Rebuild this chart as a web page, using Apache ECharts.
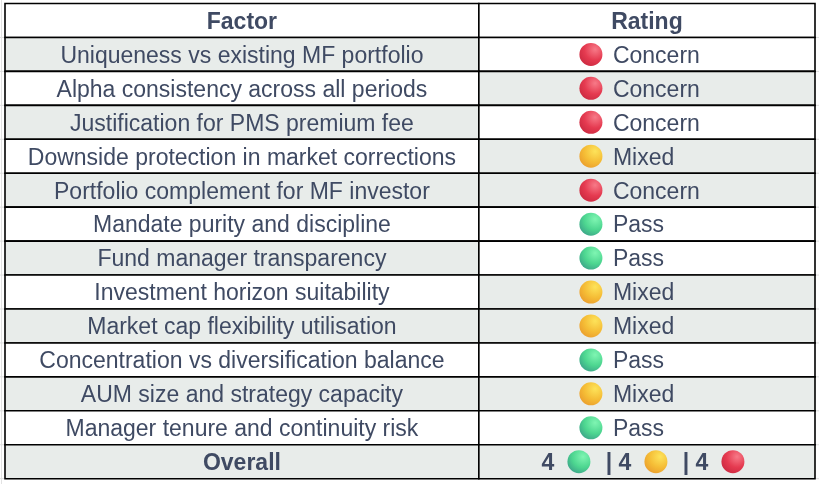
<!DOCTYPE html>
<html lang="en">
<head>
	<meta charset="UTF-8">
	<title>Factor ratings</title>
	<script src="https://cdn.jsdelivr.net/npm/echarts@6/dist/echarts.min.js"></script>
	<style>
		html, body { margin: 0; padding: 0; background: #fff; }
		#chart { width: 819px; height: 484px; }
	</style>
</head>
<body>
	<div id="chart"></div>
<script>
    // table content
    var headers = ['Factor', 'Rating'];
    var factors = [
        'Uniqueness vs existing MF portfolio',
        'Alpha consistency across all periods',
        'Justification for PMS premium fee',
        'Downside protection in market corrections',
        'Portfolio complement for MF investor',
        'Mandate purity and discipline',
        'Fund manager transparency',
        'Investment horizon suitability',
        'Market cap flexibility utilisation',
        'Concentration vs diversification balance',
        'AUM size and strategy capacity',
        'Manager tenure and continuity risk'
    ];
    var ratings = ['Concern', 'Concern', 'Concern', 'Mixed', 'Concern', 'Pass',
        'Pass', 'Mixed', 'Mixed', 'Pass', 'Mixed', 'Pass'];
    var overallLabel = 'Overall';
    var overallOrder = ['Pass', 'Mixed', 'Concern'];
    var overallCounts = [4, 4, 4];

    // which rating cells have the grey band (as in the source sheet)
    var ratingShade = [0, 1, 0, 1, 1, 0, 0, 1, 1, 0, 1, 0];

    var rowNames = [headers[0]].concat(factors, [overallLabel]);
    var colEdges = [0, 0.585, 1];   // share of the table width per column

    var FONT = 'Liberation Sans, Arial, sans-serif';
    var TEXT = '#3f4a63';
    var SHADE = '#e8ecea';

    var dotStops = {
        Concern: ['#f77a88', '#e53a50', '#c8283f'],
        Mixed: ['#fde35a', '#f5bd36', '#e99a2c'],
        Pass: ['#7ff5b2', '#4dd690', '#3a9f88']
    };
    function dot(kind, cx, cy) {
        var s = dotStops[kind];
        return {
            type: 'circle',
            shape: { cx: cx, cy: cy, r: 11.5 },
            style: {
                fill: new echarts.graphic.RadialGradient(0.68, 0.28, 0.85, [
                    { offset: 0, color: s[0] },
                    { offset: 0.55, color: s[1] },
                    { offset: 1, color: s[2] }
                ])
            }
        };
    }
    function label(str, x, y, bold, align) {
        return {
            type: 'text',
            style: {
                text: str, x: x, y: y + 2,
                fill: TEXT,
                font: (bold ? 'bold ' : '') + '23px ' + FONT,
                align: align || 'center',
                verticalAlign: 'middle'
            }
        };
    }

    // one data item per cell: [column, row]
    var cells = [];
    rowNames.forEach(function (name, r) {
        cells.push([0, r]);
        cells.push([1, r]);
    });

    function renderCell(params, api) {
        var col = api.value(0), row = api.value(1);
        var x0 = api.coord([colEdges[col], row])[0];
        var x1 = api.coord([colEdges[col + 1], row])[0];
        var cy = api.coord([0, row])[1];
        var h = api.size([0, 1])[1];
        var top = cy - h / 2;
        var cx = (x0 + x1) / 2;
        var last = rowNames.length - 1;
        var children = [];

        // faint sheet gridlines outside the table
        if (col === 0) {
            children.push({ type: 'line', shape: { x1: 0, y1: top + h, x2: api.getWidth(), y2: top + h },
                style: { stroke: '#dcdcdc', lineWidth: 1 } });
            if (row === 0) {
                children.push({ type: 'line', shape: { x1: 1.5, y1: 0, x2: 1.5, y2: api.getHeight() },
                    style: { stroke: '#e2e2e2', lineWidth: 1 } });
            }
        }

        var shaded;
        if (row === 0) shaded = false;
        else if (row === last) shaded = true;
        else if (col === 0) shaded = row % 2 === 1;
        else shaded = ratingShade[row - 1] === 1;

        children.push({
            type: 'rect',
            shape: { x: x0, y: top, width: x1 - x0, height: h },
            style: { fill: shaded ? SHADE : '#ffffff', stroke: '#000', lineWidth: 1.6 }
        });

        if (row === 0) {
            children.push(label(headers[col], cx, cy, true));
        } else if (row === last) {
            if (col === 0) {
                children.push(label(overallLabel, cx, cy, true));
            } else {
                overallOrder.forEach(function (kind, i) {
                    var step = 77 * i;
                    if (i > 0) children.push(label('|', cx - 115 + step, cy, true));
                    children.push(label(String(overallCounts[i]), cx - 99 + step, cy, true));
                    children.push(dot(kind, cx - 68 + step, cy));
                });
            }
        } else if (col === 0) {
            children.push(label(factors[row - 1], cx, cy, false));
        } else {
            var rt = ratings[row - 1];
            children.push(dot(rt, cx - 56, cy));
            children.push(label(rt, cx - 34, cy, false, 'left'));
        }
        return { type: 'group', children: children };
    }

    var myChart = echarts.init(document.getElementById('chart'));
    var option = {
        animation: false,
        grid: { left: 5, right: 4, top: 3.5, bottom: 5.3 },
        xAxis: { type: 'value', min: 0, max: 1, show: false },
        yAxis: { type: 'category', data: rowNames, inverse: true, show: false },
        series: [{
            type: 'custom',
            renderItem: renderCell,
            data: cells,
            encode: { x: 0, y: 1 }
        }]
    };
    myChart.setOption(option);
</script>
</body>
</html>
